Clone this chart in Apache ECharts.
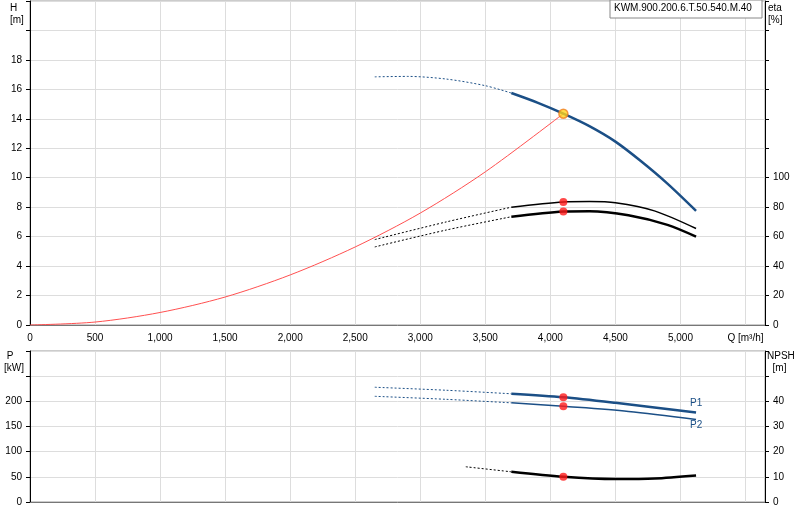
<!DOCTYPE html><html><head><meta charset="utf-8"><script src="https://cdn.jsdelivr.net/npm/echarts@6/dist/echarts.min.js"></script></head><body style="margin:0"><div id="c" style="width:800px;height:520px"></div><script>
const hDash=[[2650,16.85],[2900,16.88],[3200,16.7],[3500,16.25],[3700,15.75]];
const hSolid=[[3700,15.75],[3900,15.1],[4100,14.35],[4300,13.5],[4500,12.45],[4700,11.1],[4900,9.6],[5120,7.75]];
const sysCurve=[[0,0],[500,0.2],[1000,0.85],[1500,1.9],[2000,3.4],[2500,5.3],[3000,7.6],[3500,10.4],[4100,14.35]];
const eta1Dash=[[2650,58],[3200,70],[3700,80]];
const eta1Solid=[[3700,80],[4100,83.5],[4300,83.8],[4500,83],[4800,77.5],[5120,65.5]];
const eta2Dash=[[2650,53],[3200,64.5],[3700,73.5]];
const eta2Solid=[[3700,73.5],[4100,77],[4300,77.3],[4600,74.5],[4900,68],[5120,60]];
const p1Dash=[[2650,228],[3200,222],[3700,215]];
const p1Solid=[[3700,215],[4100,208],[4500,197],[5120,178]];
const p2Dash=[[2650,210],[3200,204],[3700,197]];
const p2Solid=[[3700,197],[4100,190],[4600,180],[5120,164]];
const npshDash=[[3350,14],[3700,12]];
const npshSolid=[[3700,12],[4100,10],[4500,9.1],[4800,9.3],[5120,10.5]];
const duty={q:4100,h:14.35,eta1:83.5,eta2:77,p1:208,p2:190,npsh:10};
const blue='#1b4f86';
const gl={lineStyle:{color:'#ddd'}};
const ln=(d,x,y,c,w,dash)=>({type:'line',data:d,xAxisIndex:x,yAxisIndex:y,showSymbol:false,smooth:0.3,lineStyle:{color:c,width:w,type:dash?[2,2]:'solid'},z:3});
const dot=(q,v,x,y)=>({type:'scatter',data:[[q,v]],xAxisIndex:x,yAxisIndex:y,symbolSize:8,itemStyle:{color:'#ff1a1a'},z:5});
const font={fontFamily:'Liberation Sans',fontSize:10,color:'#000'};
const ch=echarts.init(document.getElementById('c'));
ch.setOption({animation:false,textStyle:{fontFamily:'Liberation Sans'},
grid:[{left:30,right:35,top:1,height:324,show:true,borderColor:'#999'},{left:30,right:35,top:351,height:151,show:true,borderColor:'#999'}],
xAxis:[{gridIndex:0,type:'value',min:0,max:5650,interval:500,axisLine:{lineStyle:{color:'#777'}},axisTick:{show:false},splitLine:gl,
 axisLabel:Object.assign({},font,{showMaxLabel:false,formatter:v=>v==5500?'Q [m³/h]':v.toLocaleString('en-US')})},
 {gridIndex:1,type:'value',min:0,max:5650,interval:500,axisLine:{lineStyle:{color:'#777'}},axisTick:{show:false},axisLabel:{show:false},splitLine:gl}],
yAxis:[{gridIndex:0,min:0,max:22,interval:2,axisLine:{show:true,lineStyle:{color:'#000'}},axisTick:{show:true,length:4},splitLine:gl,axisLabel:Object.assign({},font,{formatter:v=>v<=18?v:''})},
 {gridIndex:0,position:'right',min:0,max:220,interval:20,axisLine:{show:true,lineStyle:{color:'#000'}},axisTick:{show:true,length:4},splitLine:{show:false},axisLabel:Object.assign({},font,{formatter:v=>v<=100?v:''})},
 {gridIndex:1,min:0,max:300,interval:50,axisLine:{show:true,lineStyle:{color:'#000'}},axisTick:{show:true,length:4},splitLine:gl,axisLabel:Object.assign({},font,{formatter:v=>v<=200?v:''})},
 {gridIndex:1,position:'right',min:0,max:60,interval:10,axisLine:{show:true,lineStyle:{color:'#000'}},axisTick:{show:true,length:4},splitLine:{show:false},axisLabel:Object.assign({},font,{formatter:v=>v<=40?v:''})}],
series:[
 ln(sysCurve,0,0,'#ff5050',1,false),
 ln(hDash,0,0,blue,1,true),ln(hSolid,0,0,blue,2.5,false),
 ln(eta1Dash,0,1,'#000',1,true),ln(eta1Solid,0,1,'#000',1.5,false),
 ln(eta2Dash,0,1,'#000',1,true),ln(eta2Solid,0,1,'#000',2.5,false),
 ln(p1Dash,1,2,blue,1,true),ln(p1Solid,1,2,blue,2.5,false),
 ln(p2Dash,1,2,blue,1,true),ln(p2Solid,1,2,blue,1.5,false),
 ln(npshDash,1,3,'#000',1,true),ln(npshSolid,1,3,'#000',2.5,false),
 {type:'scatter',data:[[duty.q,duty.h]],xAxisIndex:0,yAxisIndex:0,symbolSize:9,itemStyle:{color:'#ffd21a',borderColor:'#f08020',borderWidth:1.5},z:6},
 dot(duty.q,duty.eta1,0,1),dot(duty.q,duty.eta2,0,1),dot(duty.q,duty.p1,1,2),dot(duty.q,duty.p2,1,2),dot(duty.q,duty.npsh,1,3)
],
graphic:[
 {type:'text',left:10,top:2,style:{text:'H\n[m]',font:'10px Liberation Sans',align:'center',lineHeight:12}},
 {type:'text',left:768,top:2,style:{text:'eta\n[%]',font:'10px Liberation Sans',lineHeight:12}},
 {type:'text',left:4,top:350,style:{text:' P\n[kW]',font:'10px Liberation Sans',lineHeight:12}},
 {type:'text',left:767,top:350,style:{text:'NPSH\n  [m]',font:'10px Liberation Sans',lineHeight:12}},
 {type:'rect',shape:{x:610,y:0,width:152,height:18},style:{fill:'#fff',stroke:'#888'},z:10},
 {type:'text',x:614,y:3,style:{text:'KWM.900.200.6.T.50.540.M.40',font:'10px Liberation Sans'},z:11},
 {type:'text',x:690,y:398,style:{text:'P1',font:'10px Liberation Sans',fill:blue},z:11},
 {type:'text',x:690,y:420,style:{text:'P2',font:'10px Liberation Sans',fill:blue},z:11}
]});
</script></body></html>
